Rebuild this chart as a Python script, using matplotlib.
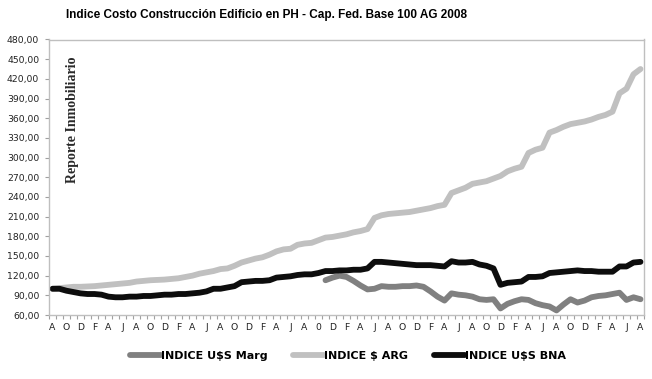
# Indice Costo Construccion - chart recreation
import numpy as np
import matplotlib.pyplot as plt
from matplotlib.ticker import FuncFormatter

# x axis labels, every second month starting Aug 2008 (the "0" is as in the original)
x_labels = ["A", "O", "D", "F", "A", "J", "A", "O", "D", "F", "A", "J",
            "A", "O", "D", "F", "A", "J", "A", "0", "D", "F", "A", "J",
            "A", "O", "D", "F", "A", "J", "A", "O", "D", "F", "A", "J",
            "A", "O", "D", "F", "A", "J", "A"]

# monthly values Aug 2008 .. Aug 2015
indice_arg = [100, 101, 102, 103, 103, 103.5, 104, 105, 106, 107,
              108, 109, 111, 112, 113, 113.5, 114, 115, 116, 118,
              120, 123, 125, 127, 130, 131, 135, 140, 143, 146,
              148, 152, 157, 160, 161, 167, 169, 170, 174, 178,
              179, 181, 183, 186, 188, 191, 208, 212, 214, 215,
              216, 217, 219, 221, 223, 226, 228, 246, 250, 254,
              260, 262, 264, 268, 272, 279, 283, 286, 307, 312,
              315, 338, 342, 347, 351, 353, 355, 358, 362, 365,
              370, 398, 405, 427, 435]

indice_bna = [100, 100, 97, 95, 93, 92, 92, 91, 88, 87,
              87, 88, 88, 89, 89, 90, 91, 91, 92, 92,
              93, 94, 96, 100, 100, 102, 104, 110, 111, 112,
              112, 113, 117, 118, 119, 121, 122, 122, 124, 127,
              127, 128, 128, 129, 129, 131, 141, 141, 140, 139,
              138, 137, 136, 136, 136, 135, 134, 142, 140, 140,
              141, 137, 135, 131, 106, 109, 110, 111, 118, 118,
              119, 124, 125, 126, 127, 128, 127, 127, 126, 126,
              126, 134, 134, 140, 141]

# blue dollar series only starts in late 2011
indice_marg = [np.nan] * 39 + [
    113, 117, 120, 118, 112, 105, 99, 100, 104, 103,
    103, 104, 104, 105, 103, 96, 88, 82, 93, 91,
    90, 88, 84, 83, 84, 70, 77, 81, 84, 83,
    78, 75, 73, 67, 76, 84, 79, 82, 87, 89,
    90, 92, 94, 83, 87, 84]

x = np.arange(len(indice_arg))

fig = plt.figure(figsize=(6.52, 3.79), dpi=100)
ax = fig.add_axes([49/652, 1-315/379, (644-49)/652, (315-39.5)/379])

ax.plot(x, indice_marg, color='#808080', lw=4.2, solid_capstyle='round', solid_joinstyle='round', label='INDICE U$S Marg')
ax.plot(x, indice_arg, color='#c0c0c0', lw=4.2, solid_capstyle='round', solid_joinstyle='round', label='INDICE $ ARG')
ax.plot(x, indice_bna, color='#0d0d0d', lw=4.2, solid_capstyle='round', solid_joinstyle='round', label='INDICE U$S BNA')

ax.set_xlim(-0.5, len(x) - 0.5)
ax.set_ylim(60, 480)
ax.set_yticks(np.arange(60, 481, 30))
ax.yaxis.set_major_formatter(FuncFormatter(lambda v, p: f"{v:.2f}".replace('.', ',')))
ax.set_xticks(np.arange(0, len(x), 2))
ax.set_xticklabels(x_labels)
ax.set_xticks(np.arange(-0.5, len(x), 1), minor=True)
ax.tick_params(axis='x', which='major', length=0, pad=6, labelsize=6.7, labelcolor='#222222')
ax.tick_params(axis='x', which='minor', length=3, color='#a0a0a0', width=0.8)
ax.tick_params(axis='y', length=3, color='#a0a0a0', width=0.8, pad=4, labelsize=6.7, labelcolor='#222222')
for s in ax.spines.values():
    s.set_color('#bfbfbf')
    s.set_linewidth(1)

# watermark
fig.text(72.5/652, 1-120/379, 'Reporte Inmobiliario', rotation=90, ha='center', va='center',
         fontsize=10, fontweight='bold', family=['Liberation Serif', 'DejaVu Serif'], color='#2a2a2a')

fig.text(266/652, 1-15/379, 'Indice Costo Construcción Edificio en PH - Cap. Fed. Base 100 AG 2008',
         ha='center', va='center', fontsize=8.5, fontweight='bold',
         family=['Liberation Sans Narrow', 'Liberation Sans'])

fig.legend(loc='center', bbox_to_anchor=(348/652, 1-356/379), ncol=3, frameon=False,
           handlelength=2.8, handletextpad=0.0, columnspacing=2.3,
           prop={'weight': 'bold', 'size': 8})

plt.savefig('out.png', dpi=100)
